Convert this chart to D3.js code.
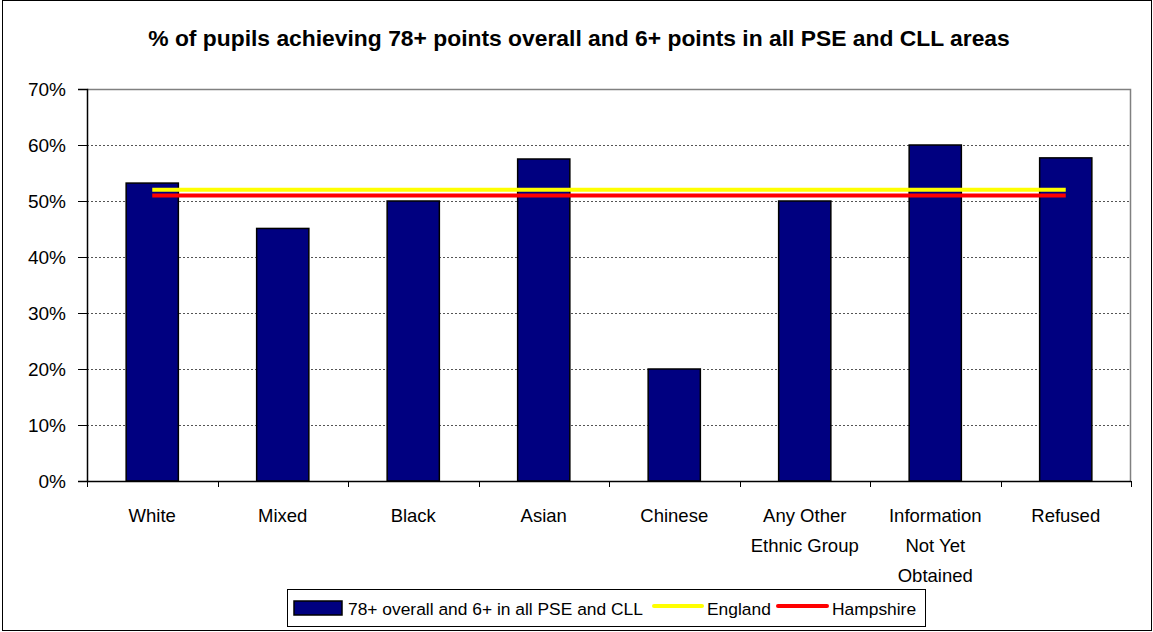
<!DOCTYPE html>
<html>
<head>
<meta charset="utf-8">
<script src="https://cdn.jsdelivr.net/npm/d3@7"></script>
<style>
  body { margin: 0; background: #fff; }
  svg text { font-family: "Liberation Sans", Arial, sans-serif; fill: #000; }
</style>
</head>
<body>
<svg id="chart" width="1153" height="632"></svg>
<script>
// categories and values
var categories = ["White", "Mixed", "Black", "Asian", "Chinese", "Any Other Ethnic Group", "Information Not Yet Obtained", "Refused"];
var categoryLines = [["White"], ["Mixed"], ["Black"], ["Asian"], ["Chinese"], ["Any Other", "Ethnic Group"], ["Information", "Not Yet", "Obtained"], ["Refused"]];
var pupils = [0.532, 0.451, 0.50, 0.575, 0.20, 0.50, 0.60, 0.577];
var england = [0.52, 0.52, 0.52, 0.52, 0.52, 0.52, 0.52, 0.52];
var hampshire = [0.51, 0.51, 0.51, 0.51, 0.51, 0.51, 0.51, 0.51];
var yTicks = [0, 0.1, 0.2, 0.3, 0.4, 0.5, 0.6, 0.7];

var svg = d3.select("#chart");

// outer chart border
svg.append("rect")
    .attr("x", 2.5).attr("y", 0.5)
    .attr("width", 1149).attr("height", 630)
    .attr("fill", "none").attr("stroke", "#000");

// title, sized to span the same width as the original
var title = svg.append("text")
    .attr("x", 579).attr("y", 46)
    .attr("text-anchor", "middle")
    .attr("font-weight", "bold")
    .attr("font-size", 20)
    .text("% of pupils achieving 78+ points overall and 6+ points in all PSE and CLL areas");
var tw = title.node().getComputedTextLength();
title.attr("font-size", 20 * 862 / tw);

var plotLeft = 87, plotRight = 1131, plotTop = 89, plotBottom = 481;

var x = d3.scaleBand()
    .domain(categories)
    .range([plotLeft, plotRight])
    .paddingInner(0.6).paddingOuter(0.3);

var xc = d3.scalePoint()
    .domain(categories)
    .range([plotLeft, plotRight])
    .padding(0.5);

var y = d3.scaleLinear()
    .domain([0, 0.7])
    .range([plotBottom, plotTop]);

// gridlines
svg.append("g")
    .selectAll("line")
    .data(yTicks.filter(function(d) { return d > 0 && d < 0.7; }))
    .enter().append("line")
    .attr("x1", plotLeft).attr("x2", plotRight)
    .attr("y1", function(d) { return Math.round(y(d)) + 0.5; })
    .attr("y2", function(d) { return Math.round(y(d)) + 0.5; })
    .attr("stroke", "#555")
    .attr("stroke-dasharray", "2,2");

// plot area top and right edges
svg.append("path")
    .attr("d", "M" + plotLeft + "," + (plotTop + 0.5) + "H" + (plotRight - 0.5) + "V" + plotBottom)
    .attr("fill", "none")
    .attr("stroke", "#808080")
    .attr("stroke-width", 1.5);

// bars
svg.append("g")
    .selectAll("rect")
    .data(pupils)
    .enter().append("rect")
    .attr("x", function(d, i) { return x(categories[i]); })
    .attr("y", function(d) { return y(d); })
    .attr("width", x.bandwidth())
    .attr("height", function(d) { return y(0) - y(d); })
    .attr("fill", "#000080")
    .attr("stroke", "#000")
    .attr("stroke-width", 1.5);

// reference lines
var line = d3.line()
    .x(function(d, i) { return xc(categories[i]); })
    .y(function(d) { return y(d); });

svg.append("path").datum(england)
    .attr("d", line)
    .attr("fill", "none").attr("stroke", "#ffff00").attr("stroke-width", 4);

svg.append("path").datum(hampshire)
    .attr("d", line)
    .attr("fill", "none").attr("stroke", "#ff0000").attr("stroke-width", 4);

// y axis
var yAxis = d3.axisLeft(y)
    .tickValues(yTicks)
    .tickFormat(d3.format(".0%"))
    .tickSize(9)
    .tickPadding(12);

var gy = svg.append("g")
    .attr("transform", "translate(" + plotLeft + ",0)")
    .call(yAxis);
gy.select(".domain").attr("stroke", "#000").attr("stroke-width", 1.5);
gy.selectAll(".tick line").attr("stroke", "#000");
gy.selectAll(".tick text")
    .attr("font-size", 19)
    .attr("font-family", "Liberation Sans, Arial, sans-serif")
    .attr("fill", "#000");

// x axis: ticks at category boundaries
var step = (plotRight - plotLeft) / categories.length;
var gx = svg.append("g");
gx.append("line")
    .attr("x1", plotLeft).attr("x2", plotRight)
    .attr("y1", plotBottom + 0.5).attr("y2", plotBottom + 0.5)
    .attr("stroke", "#000").attr("stroke-width", 1.5);
gx.selectAll(".tk")
    .data(d3.range(categories.length + 1))
    .enter().append("line")
    .attr("class", "tk")
    .attr("x1", function(i) { return Math.round(plotLeft + i * step) + 0.5; })
    .attr("x2", function(i) { return Math.round(plotLeft + i * step) + 0.5; })
    .attr("y1", plotBottom).attr("y2", plotBottom + 6)
    .attr("stroke", "#000");

gx.selectAll(".lbl")
    .data(categoryLines)
    .enter().append("text")
    .attr("class", "lbl")
    .attr("text-anchor", "middle")
    .attr("font-size", 18.5)
    .attr("x", function(d, i) { return xc(categories[i]); })
    .attr("y", 522)
    .each(function(d, i) {
        var t = d3.select(this);
        d.forEach(function(s, j) {
            t.append("tspan")
                .attr("x", xc(categories[i]))
                .attr("dy", j == 0 ? 0 : 30)
                .text(s);
        });
    });

// legend
var lg = svg.append("g");
lg.append("rect")
    .attr("x", 287.5).attr("y", 589.5)
    .attr("width", 638).attr("height", 37)
    .attr("fill", "#fff").attr("stroke", "#000");
lg.append("rect")
    .attr("x", 294).attr("y", 601)
    .attr("width", 48).attr("height", 14)
    .attr("fill", "#000080").attr("stroke", "#000").attr("stroke-width", 1.5);
lg.append("text").attr("x", 348).attr("y", 615).attr("font-size", 17.4)
    .text("78+ overall and 6+ in all PSE and CLL");
lg.append("line")
    .attr("x1", 654).attr("x2", 702).attr("y1", 606).attr("y2", 606)
    .attr("stroke", "#ffff00").attr("stroke-width", 4).attr("stroke-linecap", "round");
lg.append("text").attr("x", 707).attr("y", 615).attr("font-size", 17.4)
    .text("England");
lg.append("line")
    .attr("x1", 778).attr("x2", 827).attr("y1", 606).attr("y2", 606)
    .attr("stroke", "#ff0000").attr("stroke-width", 4).attr("stroke-linecap", "round");
lg.append("text").attr("x", 832).attr("y", 615).attr("font-size", 17.4)
    .text("Hampshire");
</script>
</body>
</html>
